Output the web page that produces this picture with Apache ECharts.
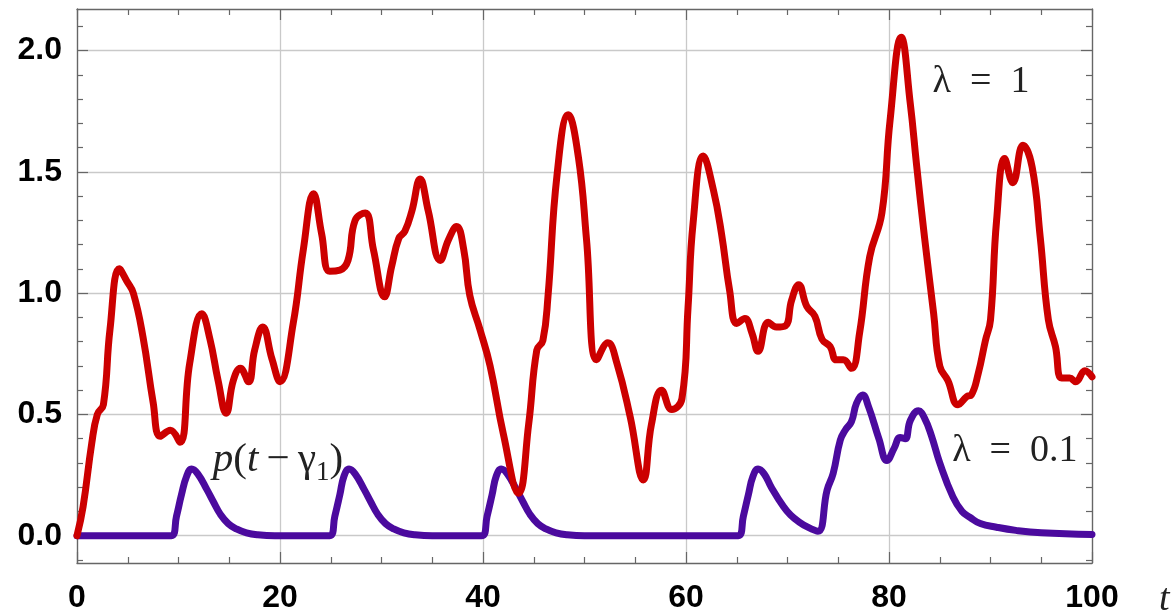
<!DOCTYPE html>
<html>
<head>
<meta charset="utf-8">
<script src="https://cdn.jsdelivr.net/npm/echarts@6/dist/echarts.min.js"></script>
<style>
  html, body { margin: 0; padding: 0; background: #ffffff; }
  #chart { width: 1173px; height: 613px; }
</style>
</head>
<body>
<div id="chart"></div>
<script>
// ---- data ----
const tRed = [0, 0.6, 1.45, 2.0, 2.6, 3.25, 4.17, 4.9, 5.55, 6.5, 7.5, 8.2, 9.2, 10.15, 11.1, 12.3, 13.1, 13.9, 14.7, 15.4,
  16.1, 16.9, 17.5, 18.3, 19.2, 20.0, 21.3, 22.3, 23.3, 24.1, 24.9, 25.9, 26.7, 27.4, 28.4, 29.2, 30.3, 31.0, 31.7, 32.3,
  33.0, 33.8, 34.6, 35.8, 36.6, 37.4, 38.1, 38.7, 39.7, 40.7, 42.0, 43.5, 44.5, 45.3, 45.9, 46.4, 47.3, 48.4, 49.4, 50.2,
  51.2, 52.3, 53.2, 54.5, 55.8, 56.6, 57.6, 58.6, 59.6, 60.2, 60.7, 61.7, 62.7, 63.5, 64.3, 65.0, 65.8, 66.5, 67.1, 68.1,
  68.9, 69.8, 70.4, 71.1, 71.9, 72.7, 73.4, 74.2, 74.8, 75.5, 76.3, 77.1, 78.1, 79.3, 80.1, 81.2, 82.1, 82.7, 83.5, 84.4,
  85.0, 85.8, 86.8, 87.7, 88.1, 88.8, 89.5, 90.0, 90.6, 91.4, 92.2, 93.2, 94.1, 94.9, 95.7, 96.4, 97.0, 97.8, 98.4, 99.3,
  100];
const vRed = [0, 0.12, 0.38, 0.50, 0.54, 0.85, 1.10, 1.05, 1.0, 0.82, 0.55, 0.41, 0.435, 0.385, 0.71, 0.915, 0.81, 0.64, 0.505, 0.64,
  0.69, 0.635, 0.765, 0.86, 0.73, 0.635, 0.875, 1.18, 1.41, 1.245, 1.09, 1.095, 1.135, 1.30, 1.33, 1.18, 0.985, 1.11, 1.225, 1.255,
  1.34, 1.47, 1.34, 1.135, 1.22, 1.275, 1.18, 0.99, 0.85, 0.70, 0.42, 0.175, 0.46, 0.765, 0.805, 0.985, 1.49, 1.735, 1.56, 1.22,
  0.725, 0.795, 0.71, 0.49, 0.23, 0.46, 0.60, 0.52, 0.565, 0.94, 1.29, 1.565, 1.425, 1.245, 1.01, 0.875, 0.895, 0.835, 0.76, 0.88,
  0.86, 0.865, 0.97, 1.035, 0.945, 0.905, 0.81, 0.78, 0.725, 0.725, 0.69, 0.835, 1.15, 1.33, 1.71, 2.055, 1.78, 1.535, 1.23, 0.915,
  0.70, 0.64, 0.54, 0.575, 0.58, 0.67, 0.805, 0.89, 1.30, 1.555, 1.455, 1.61, 1.52, 1.23, 0.89, 0.78, 0.65, 0.65, 0.635, 0.68,
  0.655];

const tPurple = [0, 9.3, 9.8, 10.3, 10.8, 11.3, 11.9, 12.8, 13.5, 14.1, 14.9, 15.7, 16.7, 17.8, 19.5,
  24.9, 25.4, 25.9, 26.3, 26.8, 27.4, 28.3, 29.0, 29.6, 30.4, 31.2, 32.2, 33.3, 35.0,
  39.9, 40.4, 40.9, 41.3, 41.8, 42.4, 43.3, 44.0, 44.6, 45.4, 46.2, 47.2, 48.3, 50.0,
  65.15, 65.65, 66.15, 66.6, 67.1, 67.7, 68.4, 69.6, 70.3, 71.1, 72.0, 73.0,
  73.9, 74.5, 75.2, 75.7, 76.3, 76.8, 77.4, 78.0, 79.0, 79.8, 80.5, 81.1, 81.6, 82.1, 82.9, 83.5, 84.2, 85.0,
  86.3, 87.2, 88.0, 89.0, 90.6, 92.5, 95.0, 100];
const vPurple = [0, 0, 0.08, 0.17, 0.245, 0.275, 0.255, 0.19, 0.135, 0.09, 0.05, 0.028, 0.012, 0.004, 0,
  0, 0.08, 0.17, 0.245, 0.275, 0.255, 0.19, 0.135, 0.09, 0.05, 0.028, 0.012, 0.004, 0,
  0, 0.08, 0.17, 0.245, 0.275, 0.255, 0.19, 0.135, 0.09, 0.05, 0.028, 0.012, 0.004, 0,
  0, 0.08, 0.17, 0.245, 0.275, 0.255, 0.2, 0.12, 0.085, 0.058, 0.035, 0.018,
  0.188, 0.257, 0.394, 0.436, 0.47, 0.546, 0.58, 0.53, 0.40, 0.31, 0.36, 0.405, 0.40, 0.475, 0.515, 0.485, 0.41, 0.30,
  0.16, 0.10, 0.075, 0.05, 0.035, 0.022, 0.012, 0.005];

const yMajorTicks = [0, 0.5, 1.0, 1.5, 2.0];
const yMinorTicks = [-0.1, 0.1, 0.2, 0.3, 0.4, 0.6, 0.7, 0.8, 0.9, 1.1, 1.2, 1.3, 1.4, 1.6, 1.7, 1.8, 1.9, 2.1];

// ---- chart ----
const zip = (a, b) => a.map((x, i) => [x, b[i]]);
const FRAME = '#666666';
const GRID = '#c9c9c9';
const Y_MIN = -0.1125, Y_MAX = 2.1713;
const labelFont = { color: '#000', fontFamily: 'Liberation Sans', fontWeight: 'bold', fontSize: 32 };
const serif = 'Liberation Serif';

function yAxisDef(pos, ticks, len, withLine, withLabels, withSplit) {
  return {
    type: 'value', position: pos, min: Y_MIN, max: Y_MAX,
    axisLine: { show: withLine, onZero: false, lineStyle: { color: FRAME, width: 1.3 } },
    axisTick: { show: true, inside: true, length: len, customValues: ticks, lineStyle: { color: FRAME, width: 1.2 } },
    axisLabel: withLabels ? Object.assign({ show: true, customValues: yMajorTicks, margin: 15,
      formatter: v => Number(v).toFixed(1) }, labelFont) : { show: false },
    splitLine: { show: withSplit, lineStyle: { color: GRID, width: 1.3 } },
    minorTick: { show: false }
  };
}
function xAxisDef(pos, withLabels, withSplit) {
  const ax = {
    type: 'value', position: pos, min: 0, max: 100, interval: 20,
    axisLine: { show: true, onZero: false, lineStyle: { color: FRAME, width: 1.3 } },
    axisTick: { show: true, inside: true, length: 11, lineStyle: { color: FRAME, width: 1.2 } },
    minorTick: { show: true, splitNumber: 4, length: 6, lineStyle: { color: FRAME, width: 1.2 } },
    axisLabel: withLabels ? Object.assign({ show: true, margin: 19 }, labelFont) : { show: false },
    splitLine: { show: withSplit, lineStyle: { color: GRID, width: 1.3 } }
  };
  if (withLabels) {
    ax.name = 't';
    ax.nameLocation = 'end';
    ax.nameGap = 67;
    ax.nameTextStyle = { fontFamily: serif, fontStyle: 'italic', fontSize: 38, color: '#222',
      verticalAlign: 'top', padding: [18, 0, 0, 0] };
  }
  return ax;
}

const chart = echarts.init(document.getElementById('chart'), null, { renderer: 'canvas' });
chart.setOption({
  animation: false,
  backgroundColor: '#ffffff',
  grid: { left: 77, right: 81, top: 9, bottom: 50, containLabel: false, outerBoundsMode: 'none' },
  xAxis: [xAxisDef('bottom', true, true), xAxisDef('top', false, false)],
  yAxis: [
    yAxisDef('left', yMajorTicks, 11, true, true, true),
    yAxisDef('left', yMinorTicks, 6, false, false, false),
    yAxisDef('right', yMajorTicks, 11, true, false, false),
    yAxisDef('right', yMinorTicks, 6, false, false, false)
  ],
  series: [
    {
      type: 'line', name: 'λ = 0.1', xAxisIndex: 0, yAxisIndex: 0,
      data: zip(tPurple, vPurple), showSymbol: false, smooth: 0.45,
      lineStyle: { color: '#4b0a9e', width: 7, cap: 'round', join: 'round' },
      markPoint: {
        symbolSize: 0, itemStyle: { color: 'rgba(0,0,0,0)' },
        data: [
          { coord: [92.4, 0.35], label: { show: true, formatter: 'λ\u2002=\u20020.1',
            fontFamily: serif, fontSize: 38, color: '#222' } },
          { coord: [19.8, 0.31], label: { show: true,
            formatter: '{i|p}{n|(}{i|t}{n|\u2009−\u2009γ}{s|1}{n|)}',
            rich: {
              i: { fontFamily: serif, fontStyle: 'italic', fontSize: 41, color: '#222' },
              n: { fontFamily: serif, fontSize: 41, color: '#222' },
              s: { fontFamily: serif, fontSize: 27, color: '#222', padding: [24, 0, 0, 0] }
            } } }
        ]
      }
    },
    {
      type: 'line', name: 'λ = 1', xAxisIndex: 0, yAxisIndex: 0,
      data: zip(tRed, vRed), showSymbol: false, smooth: 0.45,
      lineStyle: { color: '#cc0000', width: 7, cap: 'round', join: 'round' },
      markPoint: {
        symbolSize: 0, itemStyle: { color: 'rgba(0,0,0,0)' },
        data: [
          { coord: [89.06, 1.87], label: { show: true, formatter: 'λ\u2002=\u20021',
            fontFamily: serif, fontSize: 38, color: '#222' } }
        ]
      }
    }
  ]
});
</script>
</body>
</html>
